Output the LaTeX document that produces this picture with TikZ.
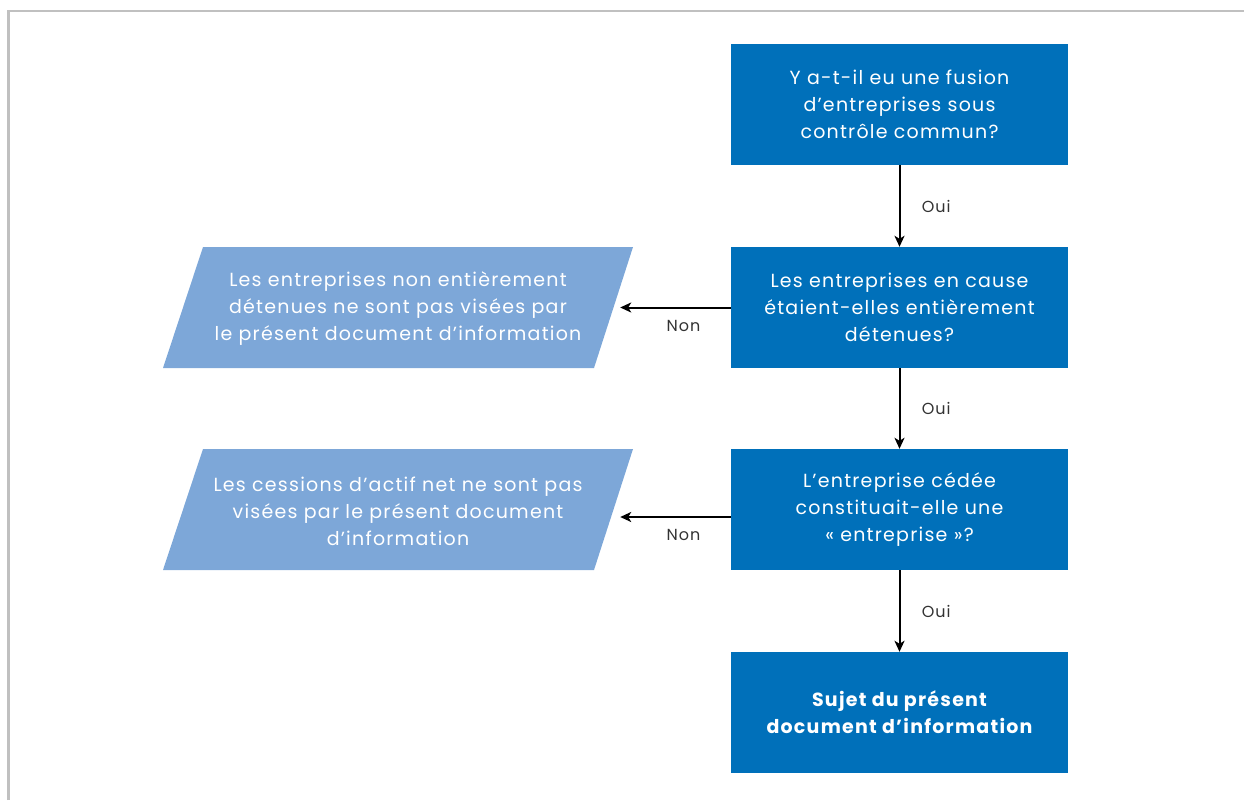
\documentclass[tikz,border=0pt]{standalone}
\usepackage{fontspec}
\setmainfont{Poppins}[LetterSpace=6.5]
\usetikzlibrary{arrows.meta,calc}
\definecolor{dblue}{HTML}{0070BA}
\definecolor{lblue}{HTML}{7DA7D8}
\definecolor{framegray}{HTML}{C0C0C0}
\definecolor{labgray}{HTML}{333333}
\begin{document}
\begin{tikzpicture}[x=1pt,y=-1pt,
  qbox/.style={fill=dblue, text=white, minimum width=337pt, minimum height=121pt, inner sep=0pt, align=center, font=\fontsize{19}{27}\selectfont},
  ptext/.style={text=white, minimum width=444pt, minimum height=121pt, inner sep=0pt, align=center, font=\fontsize{19}{27}\selectfont},
  para/.style={fill=lblue},
  arr/.style={line width=2pt, -{Stealth[length=11pt,width=10pt,inset=3pt]}},
  lbl/.style={text=labgray, font=\fontsize{16}{18}\selectfont}]
\useasboundingbox (0,0) rectangle (1244,800);
\draw[framegray, line width=2.5pt] (8.5,800) -- (8.5,11) -- (1244,11);

\node[qbox] (q1) at (899.5,104.5) {Y a-t-il eu une fusion\\d’entreprises sous\\contrôle commun?};
\node[qbox] (q2) at (899.5,307.5) {Les entreprises en cause\\étaient-elles entièrement\\détenues?};
\node[qbox] (q3) at (899.5,509.5) {L’entreprise cédée\\constituait-elle une\\« entreprise »?};
\node[qbox, font=\fontsize{19}{27}\selectfont\bfseries] (q4) at (899.5,712.5) {Sujet du présent\\document d’information};

\fill[para] (203,247) -- (633,247) -- (594,368) -- (163,368) -- cycle;
\fill[para] (203,449) -- (633,449) -- (594,570) -- (163,570) -- cycle;
\node[ptext] (p1) at (398,309) {Les entreprises non entièrement\\détenues ne sont pas visées par\\le présent document d’information};
\node[ptext] (p2) at (398,511) {Les cessions d’actif net ne sont pas\\visées par le présent document\\d’information};

\draw[arr] (q1) -- (q2) node[lbl, midway, right=18pt] {Oui};
\draw[arr] (q2) -- (q3) node[lbl, midway, right=18pt] {Oui};
\draw[arr] (q3) -- (q4) node[lbl, midway, right=18pt] {Oui};

\draw[arr] (q2.west) -- (q2.west -| p1.east) node[lbl, midway, below=8pt, xshift=8pt] {Non};
\coordinate (a2) at ($(q3.west)+(0,7.5)$);
\draw[arr] (a2) -- (a2 -| p2.east) node[lbl, midway, below=8pt, xshift=8pt] {Non};
\end{tikzpicture}
\end{document}
